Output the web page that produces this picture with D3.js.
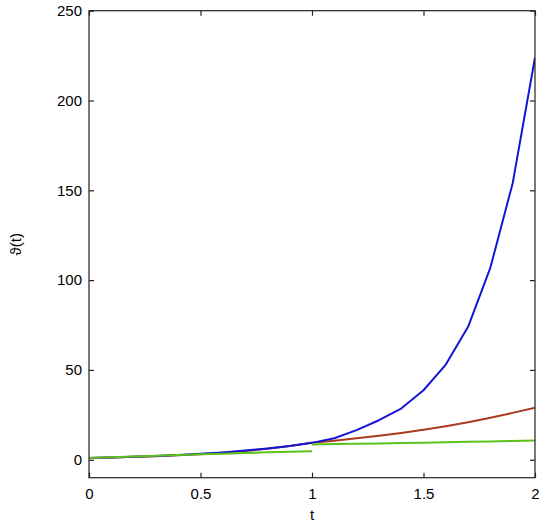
<!DOCTYPE html>
<html><head><meta charset="utf-8">
<script src="https://cdn.jsdelivr.net/npm/d3@7"></script>
<style>body{margin:0;background:#fff}svg{display:block}text{font-family:"Liberation Sans",Arial,sans-serif;font-size:15px;fill:#000}</style>
</head><body>
<svg id="c" width="550" height="525"></svg>
<script>
const xTicks = [0, 0.5, 1, 1.5, 2];
const xTickLabels = ["0", "0.5", "1", "1.5", "2"];
const yTicks = [0, 50, 100, 150, 200, 250];
const yTickLabels = ["0", "50", "100", "150", "200", "250"];

const t = [0,0.1,0.2,0.3,0.4,0.5,0.6,0.7,0.8,0.9,1.0,1.1,1.2,1.3,1.4,1.5,1.6,1.7,1.8,1.9,2.0];
const blueVals = [1,1.3,1.7,2.1,2.6,3.3,4.1,5.1,6.3,7.7,9.4,12,16.5,22,28.5,38.7,53,74,107,154,224];
const redVals  = [1,1.25,1.6,2.0,2.5,3.1,3.9,4.9,6.1,7.6,9.4,10.6,11.9,13.3,14.9,16.7,18.7,20.9,23.4,26.1,29];
const greenT1 = [0,0.1,0.2,0.3,0.4,0.5,0.6,0.7,0.8,0.9,1.0];
const greenV1 = [1,1.4,1.8,2.2,2.6,3.0,3.4,3.8,4.1,4.4,4.7];
const greenT2 = [1.0,1.1,1.2,1.3,1.4,1.5,1.6,1.7,1.8,1.9,2.0];
const greenV2 = [8.5,8.7,8.9,9.1,9.3,9.5,9.8,10.0,10.2,10.5,10.7];

const L=89, R=535, T=10.7, B=477.7;
const svg = d3.select("#c");
const x = d3.scaleLinear().domain([0,2]).range([L,R]);
const y = d3.scaleLinear().domain([-10,250]).range([B,T]);

svg.append("clipPath").attr("id","cp").append("rect")
  .attr("x",L).attr("y",T).attr("width",R-L).attr("height",B-T);

const line = d3.line().x(d=>x(d[0])).y(d=>y(d[1]));
const g = svg.append("g").attr("clip-path","url(#cp)");
function draw(ts, vs, color){
  g.append("path").datum(ts.map((v,i)=>[v,vs[i]]))
   .attr("d",line).attr("fill","none").attr("stroke",color)
   .attr("stroke-width",2).attr("stroke-linejoin","round");
}
draw(t, redVals, "#a83a1e");
draw(t, blueVals, "#1515d8");
draw(greenT1, greenV1, "#5cc21a");
draw(greenT2, greenV2, "#5cc21a");

const tl = 5;
const ax = svg.append("g");
ax.append("rect").attr("x",L).attr("y",T).attr("width",R-L).attr("height",B-T)
  .attr("fill","none").attr("stroke","#222").attr("stroke-width",1.2);

const xb = d3.axisBottom(x).tickValues(xTicks).tickSize(-tl).tickFormat((d,i)=>xTickLabels[i]).tickPadding(11);
const xt = d3.axisTop(x).tickValues(xTicks).tickSize(-tl).tickFormat("");
const yl = d3.axisLeft(y).tickValues(yTicks).tickSize(-tl).tickFormat((d,i)=>yTickLabels[i]).tickPadding(7);
const yr = d3.axisRight(y).tickValues(yTicks).tickSize(-tl).tickFormat("");

function style(sel){
  sel.select(".domain").remove();
  sel.selectAll("line").attr("stroke","#222").attr("stroke-width",1.2);
  sel.selectAll("text").attr("font-size",15).attr("fill","#000").attr("font-family",'"Liberation Sans",Arial,sans-serif');
}
ax.append("g").attr("transform",`translate(0,${B})`).call(xb).call(style);
ax.append("g").attr("transform",`translate(0,${T})`).call(xt).call(style);
ax.append("g").attr("transform",`translate(${L},0)`).call(yl).call(style);
ax.append("g").attr("transform",`translate(${R},0)`).call(yr).call(style);

svg.append("text").attr("x",x(1)).attr("y",520).attr("text-anchor","middle").text("t");
svg.append("text").attr("transform",`translate(21,${(T+B)/2}) rotate(-90)`)
  .attr("text-anchor","middle").text("ϑ(t)");
</script>
</body></html>
